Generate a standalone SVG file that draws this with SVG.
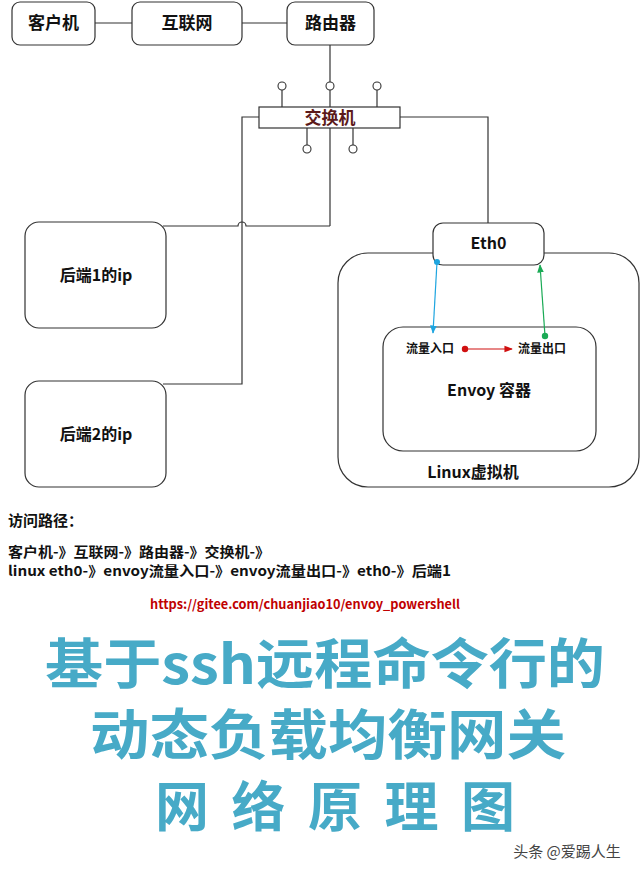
<svg xmlns="http://www.w3.org/2000/svg" width="640" height="873" viewBox="0 0 640 873">
<style>
.box{fill:#fff;stroke:#333;stroke-width:1.2}
.ln{fill:none;stroke:#333;stroke-width:1.2}
.t{font-family:"Noto Sans CJK SC","Liberation Sans",sans-serif;font-weight:bold;fill:#111}
.title{font-family:"Noto Sans CJK SC","Liberation Sans",sans-serif;font-weight:bold;fill:#47aac7}
.pin{fill:#fff;stroke:#333;stroke-width:1.1}
</style>
<defs>
<marker id="ab" viewBox="0 0 10 10" refX="9" refY="5" markerWidth="7" markerHeight="7" orient="auto"><path d="M0,1 L10,5 L0,9 z" fill="#1ea5e0"/></marker>
<marker id="ag" viewBox="0 0 10 10" refX="9" refY="5" markerWidth="7" markerHeight="7" orient="auto"><path d="M0,1 L10,5 L0,9 z" fill="#1aaa55"/></marker>
<marker id="ar" viewBox="0 0 10 10" refX="9" refY="5" markerWidth="7" markerHeight="7" orient="auto"><path d="M0,1 L10,5 L0,9 z" fill="#d01010"/></marker>
</defs>
<rect width="640" height="873" fill="#fff"/>
<g id="client"><rect class="box" x="12" y="2" width="83" height="43" rx="8"/><text class="t" x="53.5" y="29" font-size="17" text-anchor="middle">客户机</text></g>
<g id="internet"><rect class="box" x="132" y="2" width="110" height="43" rx="8"/><text class="t" x="187" y="29" font-size="17" text-anchor="middle">互联网</text></g>
<g id="router"><rect class="box" x="287" y="2" width="87" height="43" rx="8"/><text class="t" x="330.5" y="29" font-size="17" text-anchor="middle">路由器</text></g>
<g id="switch">
<line class="ln" x1="282" y1="90" x2="282" y2="107"/>
<line class="ln" x1="330" y1="90" x2="330" y2="107"/>
<line class="ln" x1="377" y1="90" x2="377" y2="107"/>
<line class="ln" x1="307" y1="128" x2="307" y2="145"/>
<line class="ln" x1="353" y1="128" x2="353" y2="145"/>
<circle class="pin" cx="282" cy="86" r="4"/>
<circle class="pin" cx="330" cy="86" r="4"/>
<circle class="pin" cx="377" cy="86" r="4"/>
<circle class="pin" cx="307" cy="149" r="4"/>
<circle class="pin" cx="353" cy="149" r="4"/>
<rect class="box" x="259" y="107" width="141" height="21"/>
<text class="t" x="330" y="124" font-size="17" text-anchor="middle" style="fill:#5c1a1a">交换机</text>
</g>
<g id="backend1"><rect class="box" x="25" y="222" width="141" height="106" rx="14"/><text class="t" x="96" y="281" font-size="16" text-anchor="middle">后端1的ip</text></g>
<g id="backend2"><rect class="box" x="25" y="381" width="141" height="106" rx="14"/><text class="t" x="96" y="440" font-size="16" text-anchor="middle">后端2的ip</text></g>
<g id="linux"><rect class="box" x="338" y="253" width="301" height="234" rx="30"/><text class="t" x="473" y="478" font-size="16" text-anchor="middle">Linux虚拟机</text></g>
<g id="envoy"><rect class="box" x="383" y="327" width="213" height="124" rx="20"/>
<text class="t" x="489" y="396" font-size="16" text-anchor="middle">Envoy 容器</text>
<text class="t" x="430" y="353" font-size="12" text-anchor="middle">流量入口</text>
<text class="t" x="542" y="353" font-size="12" text-anchor="middle">流量出口</text>
</g>
<g id="eth0"><rect class="box" x="433" y="223" width="111" height="42" rx="10"/><text class="t" x="488.5" y="249" font-size="16" text-anchor="middle">Eth0</text></g>
<g id="connectors">
<line class="ln" x1="95" y1="23" x2="132" y2="23"/>
<line class="ln" x1="242" y1="23" x2="287" y2="23"/>
<line class="ln" x1="330" y1="45" x2="330" y2="82"/>
<line class="ln" x1="330" y1="128" x2="330" y2="226"/>
<path class="ln" d="M330,226 H246 A4,4 0 0 0 238,226 H163"/>
<path class="ln" d="M259,117 H242 V384 H163"/>
<path class="ln" d="M400,117 H488 V223"/>
<line x1="437" y1="262" x2="433" y2="333" stroke="#1ea5e0" stroke-width="1.2" marker-end="url(#ab)"/>
<circle cx="437" cy="262" r="3" fill="#1ea5e0"/>
<line x1="545" y1="336" x2="540" y2="265" stroke="#1aaa55" stroke-width="1.2" marker-end="url(#ag)"/>
<circle cx="545" cy="336" r="3.2" fill="#1aaa55"/>
<line x1="465" y1="349" x2="512" y2="349" stroke="#d01010" stroke-width="1.2" marker-end="url(#ar)"/>
<circle cx="465" cy="349" r="3.2" fill="#d01010"/>
</g>
<g id="notes">
<text class="t" x="8" y="526" font-size="15">访问路径：</text>
<text class="t" x="8" y="557" font-size="14" textLength="262" lengthAdjust="spacingAndGlyphs">客户机-》互联网-》路由器-》交换机-》</text>
<text class="t" x="8" y="576" font-size="14" textLength="443" lengthAdjust="spacingAndGlyphs">linux eth0-》envoy流量入口-》envoy流量出口-》eth0-》后端1</text>
<text class="t" x="150" y="609" font-size="12.7" textLength="310" lengthAdjust="spacingAndGlyphs" style="fill:#c00000">https://gitee.com/chuanjiao10/envoy_powershell</text>
</g>
<g id="title">
<text class="title" x="325" y="684" font-size="54" text-anchor="middle" textLength="560" lengthAdjust="spacingAndGlyphs">基于ssh远程命令行的</text>
<text class="title" x="328" y="755" font-size="54" text-anchor="middle" textLength="476" lengthAdjust="spacingAndGlyphs">动态负载均衡网关</text>
<text class="title" x="335" y="827" font-size="54" text-anchor="middle" textLength="360" lengthAdjust="spacing">网络原理图</text>
<text x="567" y="857" font-size="15" text-anchor="middle" font-family="Noto Sans CJK SC,sans-serif" fill="#444">头条 @爱踢人生</text>
</g>
</svg>
